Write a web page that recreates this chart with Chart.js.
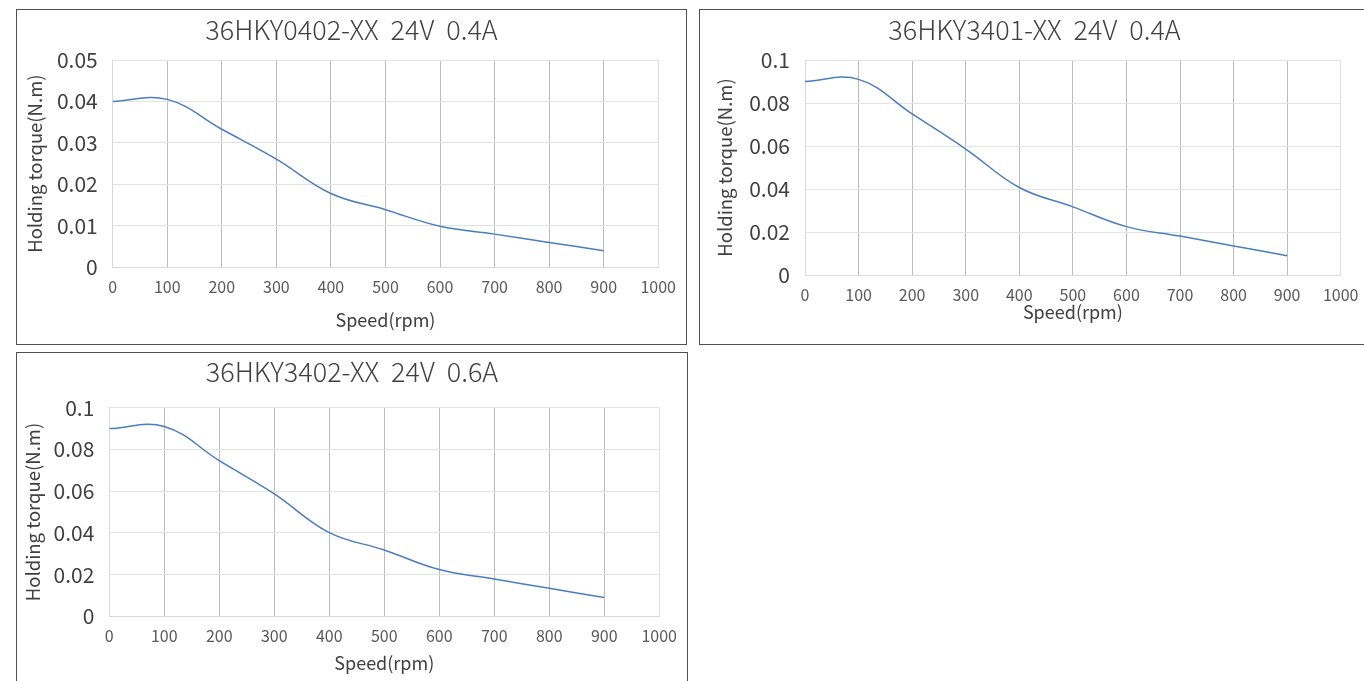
<!DOCTYPE html>
<html>
<head>
<meta charset="utf-8">
<script src="https://cdn.jsdelivr.net/npm/chart.js@4.4.1/dist/chart.umd.min.js"></script>
<style>
  html, body { margin: 0; padding: 0; background: #fff; overflow: hidden; }
  body { width: 1364px; height: 681px; position: relative; }
  .box { position: absolute; border: 1px solid #505050; background: #fff; }
  .box canvas { display: block; }
</style>
</head>
<body>
<div class="box" style="left:16px; top:9px;"><canvas id="c1" width="669" height="334"></canvas></div>
<div class="box" style="left:699px; top:9px;"><canvas id="c2" width="669" height="334"></canvas></div>
<div class="box" style="left:16px; top:352px;"><canvas id="c3" width="670" height="334"></canvas></div>
<script>
// speed points (rpm)
const speeds = [0, 100, 200, 300, 400, 500, 600, 700, 800, 900];

// holding torque (N.m)
const torque0402 = [0.040, 0.0405, 0.0333, 0.0261, 0.0178, 0.0139, 0.0099, 0.0080, 0.0060, 0.0040];
const torque3401 = [0.090, 0.0910, 0.0749, 0.0586, 0.0407, 0.0317, 0.0225, 0.0181, 0.0135, 0.0090];
const torque3402 = [0.090, 0.0910, 0.0746, 0.0587, 0.0401, 0.0318, 0.0224, 0.0179, 0.0134, 0.0090];

const titles = [
  "36HKY0402-XX  24V  0.4A",
  "36HKY3401-XX  24V  0.4A",
  "36HKY3402-XX  24V  0.6A"
];

const xTicks = [0, 100, 200, 300, 400, 500, 600, 700, 800, 900, 1000];

const FONT = "'Noto Sans CJK SC', 'Noto Sans', sans-serif";

function makeChart(id, title, values, yMax, yStep, g) {
  const ctx = document.getElementById(id).getContext("2d");
  return new Chart(ctx, {
    type: "line",
    data: {
      datasets: [{
        data: speeds.map((s, i) => ({ x: s, y: values[i] })),
        borderColor: "#4a7ebf",
        borderWidth: 1.5,
        pointRadius: 0,
        tension: 0.4,
        fill: false
      }]
    },
    options: {
      responsive: false,
      animation: false,
      plugins: {
        legend: { display: false },
        tooltip: { enabled: false },
        title: {
          display: true,
          text: title,
          color: "#404040",
          font: { family: FONT, size: 27, weight: 300, lineHeight: 1.2 },
          padding: { top: g.titleTop, bottom: g.titleBottom }
        }
      },
      scales: {
        x: {
          type: "linear",
          min: 0,
          max: 1000,
          afterBuildTicks: (s) => { s.ticks = xTicks.map(v => ({ value: v })); },
          afterFit: (s) => { s.height = g.xHeight; },
          grid: {
            drawTicks: false,
            color: (c) => (c.tick && (c.tick.value === 0 || c.tick.value === 1000)) ? "#dedede" : "#bcbcbc",
            lineWidth: 1
          },
          border: { color: "#d9d9d9" },
          ticks: {
            padding: g.xTickPad,
            color: "#595959",
            font: { family: FONT, size: 16 },
            maxRotation: 0,
            callback: (v) => String(v)
          },
          title: {
            display: true,
            text: "Speed(rpm)",
            color: "#404040",
            font: { family: FONT, size: 18 },
            padding: { top: 0, bottom: g.xTitlePad }
          }
        },
        y: {
          min: 0,
          max: yMax,
          afterFit: (s) => { s.width = g.yWidth; },
          grid: { drawTicks: false, color: "#e3e3e3" },
          border: { color: "#d9d9d9" },
          ticks: {
            stepSize: yStep,
            padding: g.yTickPad,
            color: "#404040",
            font: { family: FONT, size: 21 },
            callback: (v) => String(Math.round(v * 1000) / 1000)
          },
          title: {
            display: true,
            text: "Holding torque(N.m)",
            color: "#404040",
            font: { family: FONT, size: 18.5 },
            padding: { top: g.yTitlePad, bottom: 0 }
          }
        },
        // empty right-hand gutter so the title stays centred on the whole box
        gutter: {
          type: "linear",
          position: "right",
          grid: { display: false },
          border: { display: false },
          ticks: { display: false },
          afterFit: (s) => { s.width = g.padRight; }
        }
      }
    }
  });
}

makeChart("c1", titles[0], torque0402, 0.05, 0.01, {
  padRight: 25, titleTop: 3.8, titleBottom: 13.8, xHeight: 76.7, yWidth: 95.7,
  xTickPad: 10, xTitlePad: 13, yTickPad: 15, yTitlePad: 7
});
makeChart("c2", titles[1], torque3401, 0.1, 0.02, {
  padRight: 24.7, titleTop: 3.8, titleBottom: 13.8, xHeight: 69, yWidth: 105,
  xTickPad: 10.5, xTitlePad: 21.5, yTickPad: 15, yTitlePad: 13.9
});
makeChart("c3", titles[2], torque3402, 0.1, 0.02, {
  padRight: 26, titleTop: 2.5, titleBottom: 19.8, xHeight: 70.7, yWidth: 92.3,
  xTickPad: 10, xTitlePad: 13.5, yTickPad: 15, yTitlePad: 4.9
});
</script>
</body>
</html>
